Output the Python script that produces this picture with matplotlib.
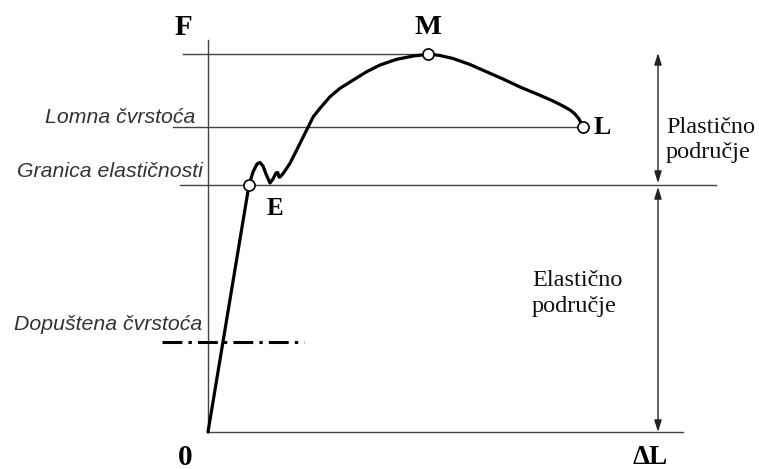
import matplotlib
matplotlib.use("Agg")
import matplotlib.pyplot as plt

# Force-elongation curve (data units: dL, F), origin at (0, 0)
curve_dl = [0, 41, 45, 49, 52, 55, 58, 62, 65, 68, 69.7, 71, 72, 75.3, 82, 88.7, 95.3,
            100.3, 105.3, 112, 122, 132, 145.3, 158.7, 172, 188.7, 205.3, 217, 220,
            232, 245, 262, 279, 295, 312, 329, 345, 355, 362, 367, 371, 375]
curve_f = [0, 247, 260, 268, 269.5, 266, 258, 249, 253, 259, 259.5, 255, 255, 258.7,
           268.7, 282, 295.3, 305.3, 315.3, 323.7, 335.3, 343.7, 352, 360.3, 367, 372.7,
           376, 377.3, 378, 376.5, 373.5, 367.5, 360, 353, 345, 338, 331, 326, 322, 318,
           313, 305]

# Key points
point_names = ["E", "M", "L"]
point_dl = [41, 220, 375]
point_f = [247, 378, 305]

# Strength levels
f_max = 378        # M
f_break = 305      # Lomna čvrstoća
f_elastic = 247    # Granica elastičnosti
f_allowed = 90     # Dopuštena čvrstoća

W, H = 759, 469
fig = plt.figure(figsize=(W / 100, H / 100), dpi=100)
ax = fig.add_axes([0, 0, 1, 1])
ax.set_xlim(-208, W - 208)
ax.set_ylim(-(H - 432), 432)
ax.axis("off")

gray = "#444444"
# axes
ax.plot([0, 0], [0, 392], color=gray, lw=1)
ax.plot([0, 475], [0, 0], color=gray, lw=1)

# horizontal reference lines
ax.plot([-25, point_dl[1]], [f_max, f_max], color=gray, lw=1)
ax.plot([-35, point_dl[2]], [f_break, f_break], color=gray, lw=1)
ax.plot([-28, 508], [f_elastic, f_elastic], color=gray, lw=1)
ax.plot([-46, 96], [f_allowed, f_allowed], color="black", lw=2.2,
        dashes=(6.5, 2.0, 1.1, 2.0), solid_capstyle="butt", dash_capstyle="butt")

# curve
ax.plot(curve_dl, curve_f, color="black", lw=2.3, solid_joinstyle="round",
        solid_capstyle="round", zorder=3)
ax.plot(point_dl, point_f, "o", ms=8, mfc="white", mec="black", mew=1.2, zorder=4)

# region arrows
arrow_kw = dict(arrowstyle="<|-|>,head_length=0.7,head_width=0.22", color="#222222",
                lw=1, shrinkA=0, shrinkB=0)
ax.annotate("", xy=(450, 379), xytext=(450, 249), arrowprops=arrow_kw)
ax.annotate("", xy=(450, 245), xytext=(450, 0), arrowprops=arrow_kw)

serif_b = dict(family="Liberation Serif", weight="bold", color="black")
ax.text(-25, 405, "F", fontsize=21, ha="center", va="center", **serif_b)
ax.text(220, 405, "M", fontsize=20.5, ha="center", va="center", **serif_b)
ax.text(394, 305, "L", fontsize=18.5, ha="center", va="center", **serif_b)
ax.text(67, 224, "E", fontsize=18, ha="center", va="center", **serif_b)
ax.text(-23, -25, "0", fontsize=21, ha="center", va="center", **serif_b)
ax.text(442, -25, "ΔL", fontsize=19.5, ha="center", va="center", **serif_b)

ital = dict(family="Liberation Sans", style="italic", color="#333333", fontsize=15.3,
            ha="right", va="baseline")
ax.text(-13, 309, "Lomna čvrstoća", **ital)
ax.text(-5, 255, "Granica elastičnosti", **ital)
ax.text(-6, 102, "Dopuštena čvrstoća", **ital)

serif = dict(family="Liberation Serif", color="#111111", fontsize=17.5, ha="left",
             va="baseline")
ax.text(458, 299, "Plastično", **serif)
ax.text(458, 274, "područje", **serif)
ax.text(324, 146, "Elastično", **serif)
ax.text(324, 120, "područje", **serif)

fig.savefig("out.png", dpi=100)
